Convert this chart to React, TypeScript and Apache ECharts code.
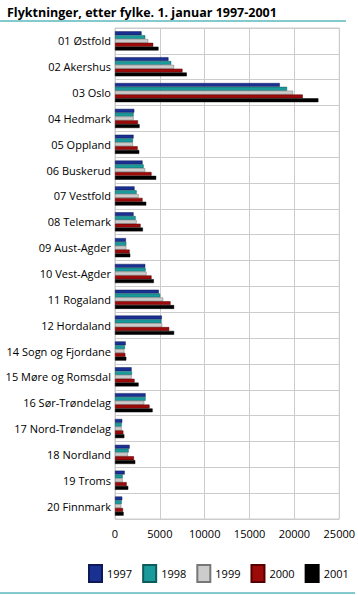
import React, { useEffect, useRef } from "react";
import * as echarts from "echarts";

const categories = [
  "01 Østfold", "02 Akershus", "03 Oslo", "04 Hedmark", "05 Oppland", "06 Buskerud",
  "07 Vestfold", "08 Telemark", "09 Aust-Agder", "10 Vest-Agder", "11 Rogaland",
  "12 Hordaland", "14 Sogn og Fjordane", "15 Møre og Romsdal", "16 Sør-Trøndelag",
  "17 Nord-Trøndelag", "18 Nordland", "19 Troms", "20 Finnmark",
];
const years = ["1997", "1998", "1999", "2000", "2001"];
const v1997 = [2960, 5960, 18370, 2150, 2070, 3070, 2180, 2070, 1220, 3370, 4890, 5220, 1190, 1850, 3410, 810, 1630, 1080, 810];
const v1998 = [3370, 6260, 19180, 2070, 2000, 3190, 2410, 2300, 1260, 3410, 5040, 5180, 1110, 1890, 3410, 740, 1520, 850, 740];
const v1999 = [3700, 6590, 19850, 2070, 2000, 3370, 2630, 2410, 1260, 3520, 5370, 5260, 1040, 1850, 3260, 740, 1440, 850, 700];
const v2000 = [4260, 7520, 20930, 2560, 2520, 4070, 3070, 2850, 1630, 4070, 6190, 6040, 1150, 2180, 3850, 930, 2110, 1300, 890];
const v2001 = [4850, 8000, 22670, 2740, 2700, 4590, 3480, 3110, 1700, 4330, 6590, 6590, 1260, 2630, 4190, 1040, 2260, 1480, 960];
const seriesValues = [v1997, v1998, v1999, v2000, v2001];
const colors = ["#1a3092", "#1a9a9a", "#cccccc", "#9c0a0a", "#000000"];
const borders = ["#0d1a55", "#0d5c5c", "#777777", "#550000", "#000000"];
const xTicks = { min: 0, max: 25000, interval: 5000 };

export default function App() {
  const ref = useRef<HTMLDivElement>(null);
  useEffect(() => {
    document.body.style.margin = "0";
    const chart = echarts.init(ref.current!, null, { renderer: "svg" });
    const font = "'Open Sans', 'DejaVu Sans', sans-serif";
    chart.setOption({
      animation: false,
      textStyle: { fontFamily: font },
      title: {
        text: "Flyktninger, etter fylke. 1. januar 1997-2001",
        left: 2,
        top: 1,
        textStyle: { fontSize: 12.5, fontWeight: "bold", color: "#000", fontFamily: font },
      },
      graphic: [
        { type: "line", shape: { x1: 0, y1: 21, x2: 346, y2: 21 }, style: { stroke: "#5bb8bd", lineWidth: 1.5 } },
        { type: "line", shape: { x1: 0, y1: 593, x2: 355, y2: 593 }, style: { stroke: "#5bb8bd", lineWidth: 1.5 } },
      ],
      legend: {
        data: years,
        top: 564,
        left: 88,
        width: 280,
        orient: "horizontal",
        itemWidth: 13,
        itemHeight: 17,
        itemGap: 10,
        padding: 0,
        icon: "rect",
        textStyle: { fontSize: 11, color: "#000", fontFamily: font },
      },
      grid: {
        left: 115,
        right: 17,
        top: 28,
        bottom: 76,
        show: true,
        borderColor: "#cccccc",
        borderWidth: 1,
      },
      xAxis: {
        type: "value",
        min: xTicks.min,
        max: xTicks.max,
        interval: xTicks.interval,
        axisLine: { show: false },
        axisTick: { show: false },
        axisLabel: { fontSize: 11, color: "#000", margin: 9, formatter: (v: number) => String(v) },
        splitLine: { lineStyle: { color: "#cccccc", width: 1 } },
      },
      yAxis: {
        type: "category",
        data: categories,
        inverse: true,
        axisLine: { show: false },
        axisTick: { show: false },
        axisLabel: { fontSize: 11, color: "#000", margin: 4 },
        splitLine: { show: true, lineStyle: { color: "#cccccc", width: 1 } },
      },
      series: years.map((y, i) => ({
        name: y,
        type: "bar",
        data: seriesValues[i],
        barGap: "0%",
        barCategoryGap: "26%",
        itemStyle: { color: colors[i], borderColor: borders[i], borderWidth: 0.5 },
      })),
    });
    return () => chart.dispose();
  }, []);
  return <div ref={ref} style={{ width: 358, height: 595 }} />;
}
